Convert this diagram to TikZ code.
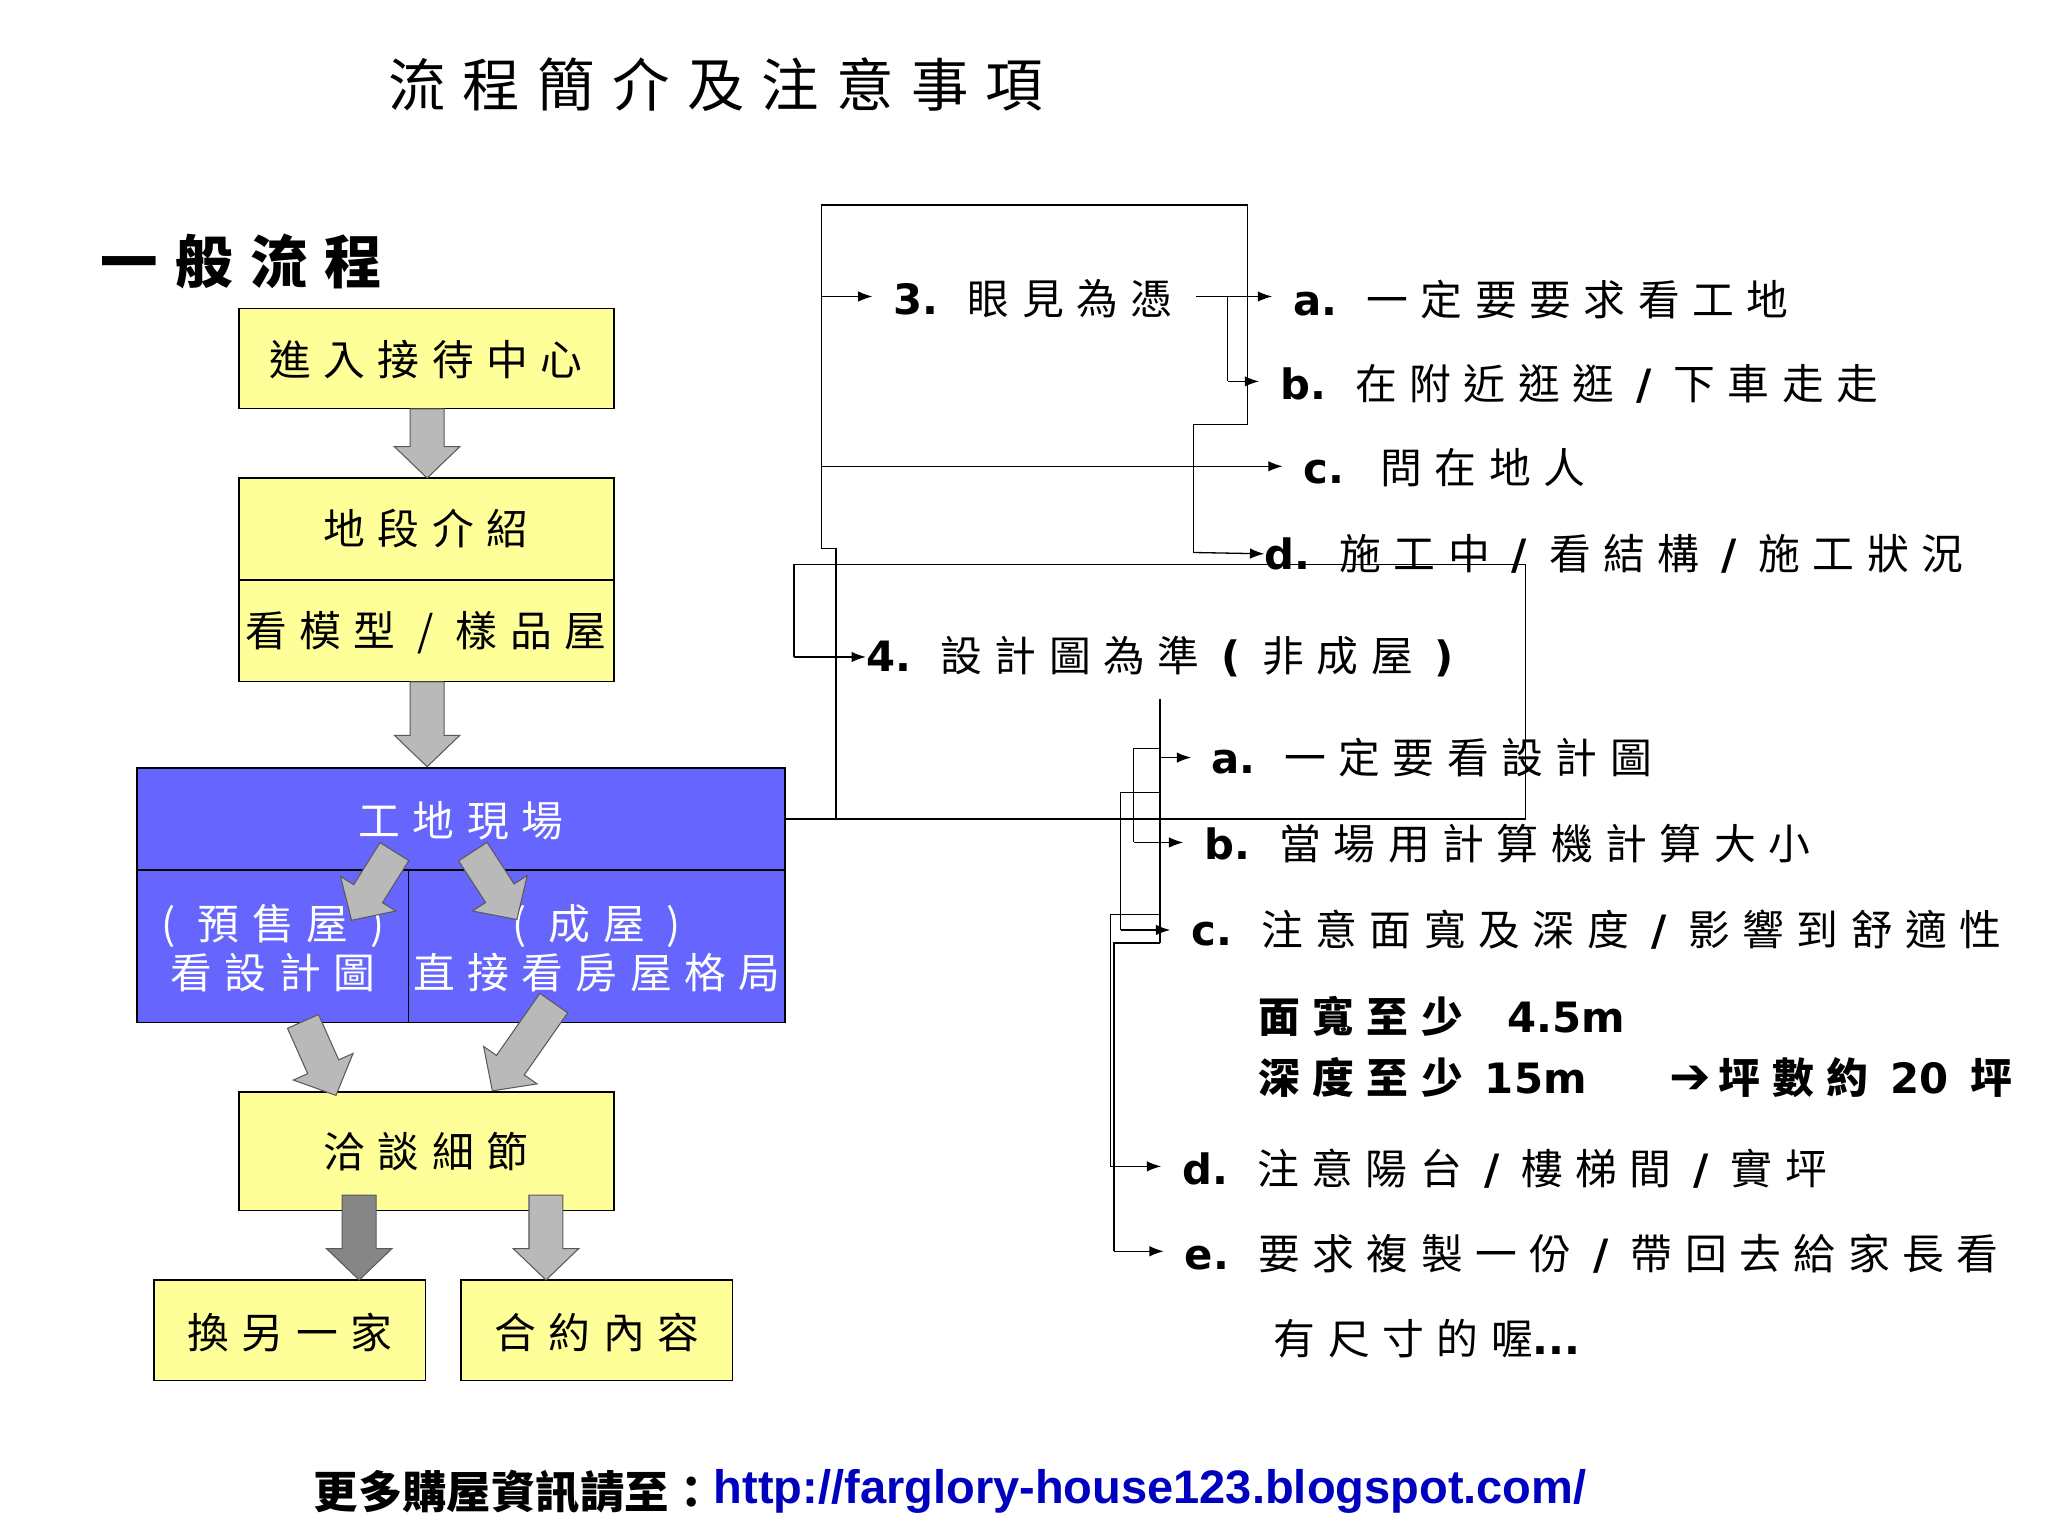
\documentclass[tikz,border=0pt]{standalone}
\usepackage{fontspec}
\setmainfont{Noto Sans CJK TC}[LetterSpace=30]
\newfontfamily\plain{Noto Sans CJK TC}
\newfontfamily\urlf{Liberation Sans}
\newfontfamily\latf{DejaVu Sans}
\newfontfamily\symf{DejaVu Sans}
\newcommand{\LL}[1]{{\latf\bfseries #1}}
\usetikzlibrary{arrows.meta}
\definecolor{ybox}{HTML}{FFFF99}
\definecolor{bbox}{HTML}{6666FF}
\newcommand{\barrow}[4]{%
 \begin{scope}[shift={#1},rotate=#2]
 \filldraw[line width=0.8pt,draw=gray!70!black,fill=#4] (0,-13) -- ({#3-24},-13) -- ({#3-24},-25) -- (#3,0) -- ({#3-24},25) -- ({#3-24},13) -- (0,13) -- cycle;
 \end{scope}}
\begin{document}
\begin{tikzpicture}[x=1pt,y=-1pt,
  yb/.style={draw,fill=ybox,line width=1pt},
  bb/.style={draw,fill=bbox,line width=1pt},
  ln/.style={line width=1pt},
  ar/.style={line width=1pt,-{Latex[length=11pt,width=8pt]}},
  lab/.style={anchor=west,font=\fontsize{32}{36}\selectfont,inner sep=0pt},
  btxt/.style={font=\fontsize{32}{36}\selectfont,inner sep=0pt}]
\useasboundingbox (0,0) rectangle (1568,1176);
\fill[white] (0,0) rectangle (1568,1176);
\node[font=\fontsize{44}{48}\selectfont] (title) at (548,65) {流程簡介及注意事項};
\node[font=\fontsize{44}{48}\selectfont\bfseries] (gen) at (185,200) {一般流程};
% left boxes
\draw[yb] (183,236) rectangle (470,313);
\node[btxt] (n1) at (326,275) {進入接待中心};
\draw[yb] (183,366) rectangle (470,444);
\draw[yb] (183,444) rectangle (470,522);
\node[btxt] (n2) at (326,405) {地段介紹};
\node[btxt] (n2b) at (326,484) {看模型 / 樣品屋};
\draw[bb] (105,588) rectangle (601,666);
\draw[bb] (105,666) rectangle (313,783);
\draw[bb] (313,666) rectangle (601,783);
\node[btxt,text=white] (n3) at (353,628) {工地現場};
\node[btxt,text=white,align=center] (n3a) at (209,726) {( 預售屋 )\\[2pt]看設計圖};
\node[btxt,text=white,align=center] (n3b) at (457,726) {( 成屋 )\\[2pt]直接看房屋格局};
\draw[yb] (183,836) rectangle (470,927);
\node[btxt] (n4) at (326,882) {洽談細節};
\draw[yb] (118,980) rectangle (326,1057);
\draw[yb] (353,980) rectangle (561,1057);
\node[btxt] (n5) at (222,1020) {換另一家};
\node[btxt] (n6) at (457,1020) {合約內容};
% block arrows
\barrow{(327,313)}{-90}{53}{gray!55}
\barrow{(327,522)}{-90}{65}{gray!55}
\barrow{(302,652)}{-122}{62}{gray!55}
\barrow{(362,652)}{-57}{62}{gray!55}
\barrow{(232,782)}{-66}{62}{gray!55}
\barrow{(424,768)}{-125}{82}{gray!55}
\barrow{(275,915)}{-90}{65}{gray!95}
\barrow{(418,915)}{-90}{65}{gray!55}
% right labels
\node[lab] (s3) at (684,229) {\LL{3.} 眼見為憑};
\node[lab] (s3a) at (990,229) {\LL{a.} 一定要要求看工地};
\node[lab] (s3b) at (980,294) {\LL{b.} 在附近逛逛 \LL{/} 下車走走};
\node[lab] (s3c) at (998,358) {\LL{c.} \,問在地人};
\node[lab] (s3d) at (968,424) {\LL{d.} 施工中 \LL{/} 看結構 \LL{/} 施工狀況};
\node[lab] (s4) at (663,503) {\LL{4.} 設計圖為準 \LL{(} 非成屋 \LL{)}};
\node[lab] (s4a) at (927,580) {\LL{a.} 一定要看設計圖};
\node[lab] (s4b) at (922,646) {\LL{b.} 當場用計算機計算大小};
\node[lab] (s4c) at (912,712) {\LL{c.} 注意面寬及深度 \LL{/} 影響到舒適性};
\node[lab,font=\fontsize{32}{36}\selectfont\bfseries] (m1) at (963,778) {面寬至少 \ \LL{4.5m}};
\node[lab,font=\fontsize{32}{36}\selectfont\bfseries] (m2) at (963,825) {深度至少 \LL{15m}};
\node[lab,font=\fontsize{32}{36}\selectfont\bfseries] (m3) at (1278,825) {{\symf\bfseries\fontsize{38}{38}\selectfont ➔}\,坪數約 \LL{20} 坪};
\node[lab] (s4d) at (905,895) {\LL{d.} 注意陽台 \LL{/} 樓梯間 \LL{/} 實坪};
\node[lab] (s4e) at (907,960) {\LL{e.} 要求複製一份 \LL{/} 帶回去給家長看};
\node[lab] (s4f) at (975,1025) {有尺寸的喔\LL{...}};
% connectors
\draw[ln] (601,627) -- (1168,627) -- (1168,432) -- (608,432) -- (608,503);
\draw[ar] (608,503) -- (s4.west);
\draw[ln] (640,627) -- (640,420) -- (629,420) -- (629,157) -- (955,157) -- (955,325) -- (914,325) -- (914,423);
\draw[ar] (914,423) -- (s3d.west);
\draw[ar] (629,227) -- (668,227);
\draw[ar] (629,357) -- (982,357);
\draw[ln] (916,227) -- (940,227);
\draw[ar] (940,227) -- (974,227);
\draw[ln] (940,227) -- (940,292);
\draw[ar] (940,292) -- (964,292);
\draw[ln] (888,535) -- (888,722);
\draw[ar] (888,580) -- (912,580);
\draw[ln] (888,573) -- (868,573) -- (868,645);
\draw[ar] (868,645) -- (906,645);
\draw[ln] (888,607) -- (858,607) -- (858,712);
\draw[ar] (858,712) -- (896,712);
\draw[ln] (888,700) -- (850,700) -- (850,893);
\draw[ar] (850,893) -- (889,893);
\draw[ln] (888,722) -- (853,722) -- (853,958);
\draw[ar] (853,958) -- (891,958);
% footer
\node[anchor=west,inner sep=0pt,font=\fontsize{34}{36}\plain\bfseries] (ft) at (240,1142) {更多購屋資訊請至：};
\node[anchor=west,inner sep=0pt,font=\fontsize{36}{38}\urlf\bfseries,text=blue!75!black] (url) at (ft.east) {http://farglory-house123.blogspot.com/};
\end{tikzpicture}
\end{document}
